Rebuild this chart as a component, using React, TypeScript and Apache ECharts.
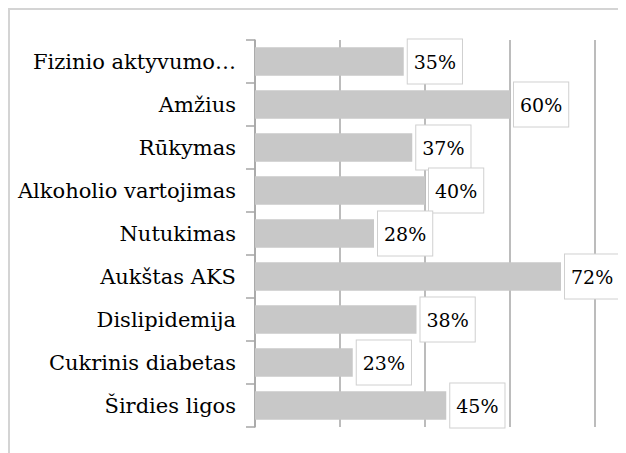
import React, { useEffect, useRef } from "react";
import * as echarts from "echarts";

const categories = [
  "Fizinio aktyvumo…",
  "Amžius",
  "Rūkymas",
  "Alkoholio vartojimas",
  "Nutukimas",
  "Aukštas AKS",
  "Dislipidemija",
  "Cukrinis diabetas",
  "Širdies ligos",
];
const values = [35, 60, 37, 40, 28, 72, 38, 23, 45];
const axisMax = 80;
const axisInterval = 20;

export default function App() {
  const ref = useRef<HTMLDivElement>(null);
  useEffect(() => {
    if (!ref.current) return;
    const chart = echarts.init(ref.current, null, { renderer: "svg" });
    chart.setOption({
      animation: false,
      backgroundColor: "#ffffff",
      textStyle: { fontFamily: "DejaVu Serif" },
      graphic: [
        {
          type: "rect",
          shape: { x: 1, y: 1, width: 1000, height: 1000 },
          style: { fill: "none", stroke: "#d4d4d4", lineWidth: 2 },
          silent: true,
        },
      ],
      grid: { left: 247, top: 32, right: 31, bottom: 26, containLabel: false },
      xAxis: {
        type: "value",
        min: 0,
        max: axisMax,
        interval: axisInterval,
        axisLabel: { show: false },
        axisLine: { show: false },
        axisTick: { show: false },
        splitLine: { show: true, lineStyle: { color: "#a6a6a6", width: 1.5 } },
      },
      yAxis: {
        type: "category",
        data: categories,
        inverse: true,
        axisLine: { show: true, lineStyle: { color: "#a6a6a6", width: 1.5 } },
        axisTick: { show: true, length: 9, lineStyle: { color: "#a6a6a6", width: 1.5 } },
        axisLabel: { fontFamily: "DejaVu Serif", fontSize: 21, color: "#000", margin: 19 },
      },
      series: [
        {
          type: "bar",
          data: values,
          barCategoryGap: "34%",
          itemStyle: { color: "#c8c8c8" },
          label: {
            show: true,
            position: "right",
            distance: 4,
            formatter: "{c}%",
            fontFamily: "DejaVu Serif",
            fontSize: 19,
            lineHeight: 22,
            color: "#000",
            backgroundColor: "#ffffff",
            borderColor: "#d0d0d0",
            borderWidth: 1,
            padding: [13, 6, 9, 6],
          },
        },
      ],
    });
    return () => chart.dispose();
  }, []);
  return <div ref={ref} style={{ width: 618, height: 445 }} />;
}
